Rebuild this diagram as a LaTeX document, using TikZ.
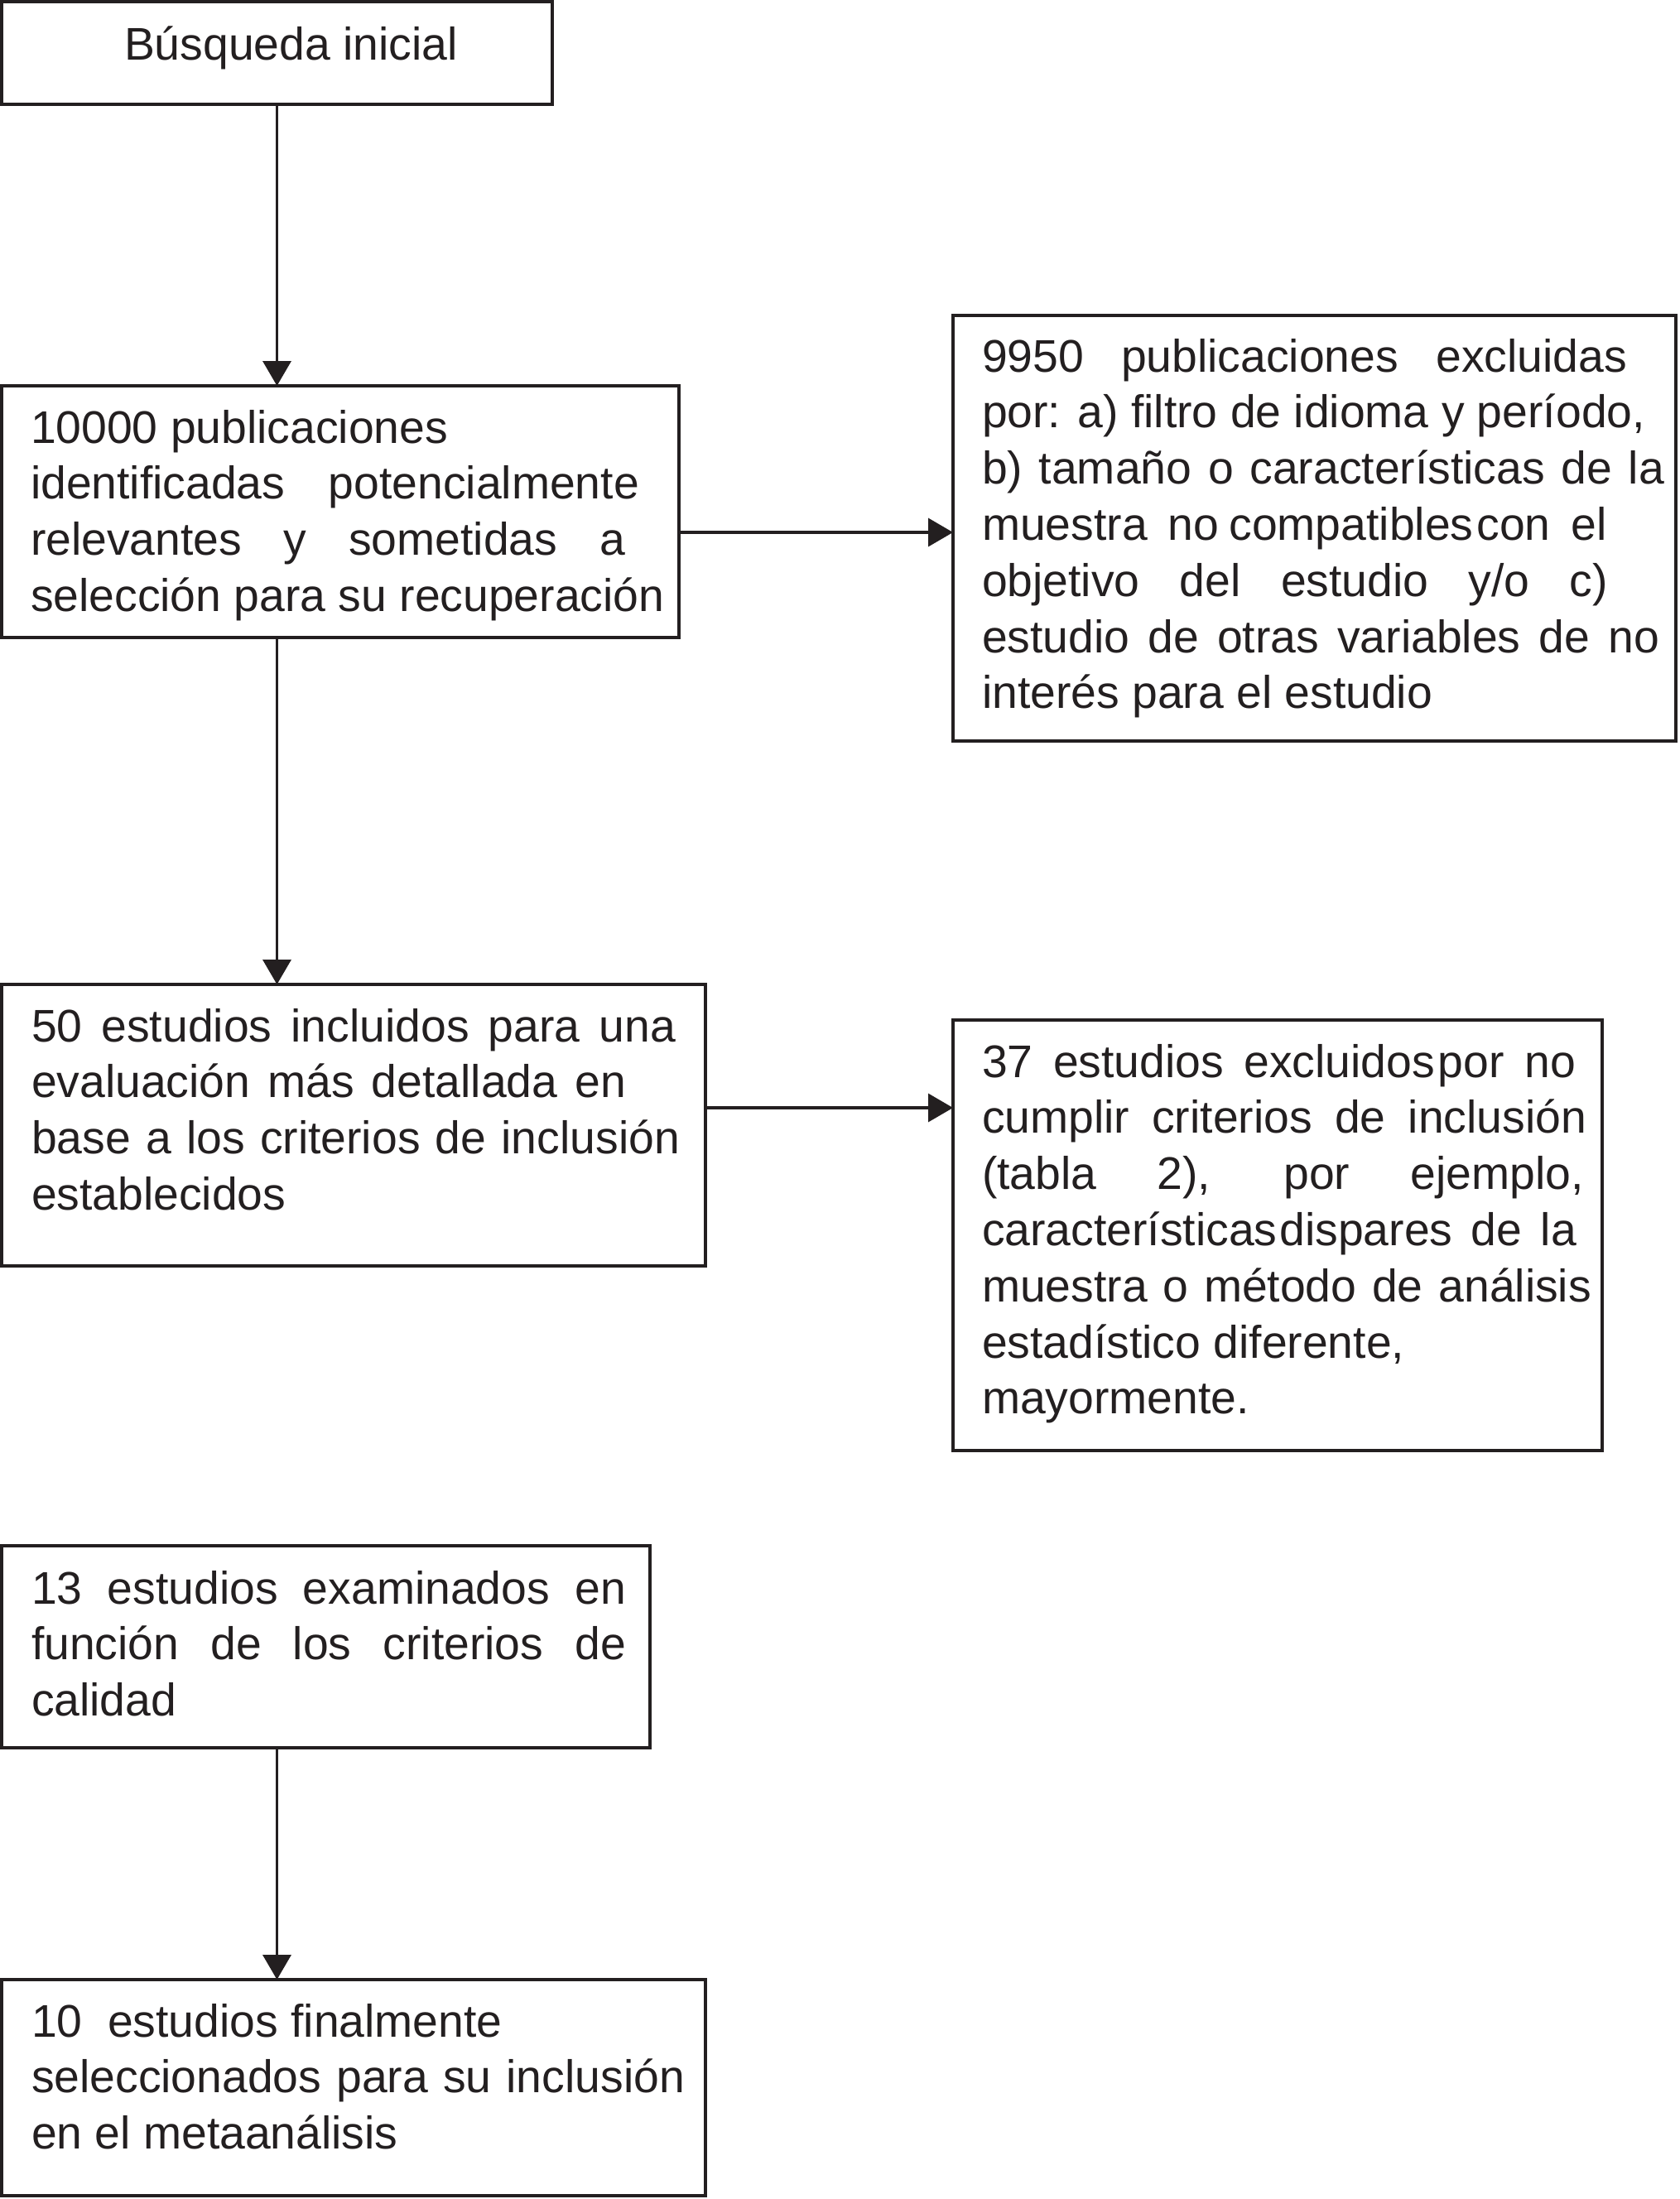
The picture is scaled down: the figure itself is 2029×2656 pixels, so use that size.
\documentclass[tikz,border=0pt]{standalone}
\usepackage{fontspec}
\setmainfont{Liberation Sans}
\usetikzlibrary{arrows.meta}
\definecolor{ink}{HTML}{231F20}
\newcommand{\jl}[2]{\makebox[#1pt][s]{#2}\\}
\newcommand{\nl}[1]{#1\\}
\begin{document}
\begin{tikzpicture}[x=1pt,y=-1pt,
  box/.style={draw=ink, line width=4pt, rectangle, inner sep=0pt, outer sep=0pt, anchor=north west},
  txt/.style={anchor=base west, inner sep=0pt, outer sep=0pt, text=ink, font=\fontsize{55.3}{67.8}\selectfont},
  conn/.style={draw=ink, line width=3.5pt, -{Triangle[length=30pt,width=34pt]}}]
\useasboundingbox (0,0) rectangle (2029,2656);
% boxes
\node[box, minimum width=665pt, minimum height=124pt] (b1) at (2,2) {};
\node[box, minimum width=818pt, minimum height=304pt] (b2) at (2,466) {};
\node[box, minimum width=873pt, minimum height=514pt] (b3) at (1151,381) {};
\node[box, minimum width=850pt, minimum height=340pt] (b4) at (2,1189) {};
\node[box, minimum width=784pt, minimum height=520pt] (b5) at (1151,1232) {};
\node[box, minimum width=783pt, minimum height=244pt] (b6) at (2,1867) {};
\node[box, minimum width=850pt, minimum height=261pt] (b7) at (2,2391) {};
% texts
\node[txt] (t1) at (150,72) {Búsqueda inicial};
\node[txt] (t2) at (37,535) {\parbox[t]{900pt}{%
\nl{10000 publicaciones}%
\jl{735}{identificadas potencialmente}%
\jl{718}{relevantes y sometidas a}%
selección para su recuperación}};
\node[txt] (t3) at (1186,449) {\parbox[t]{900pt}{%
\jl{779}{9950 publicaciones excluidas}%
\jl{801}{por: a) filtro de idioma y período,}%
\jl{824}{b) tamaño o características de la}%
\jl{755}{muestra no\hspace{12pt}compatibles\hspace{4pt}con el}%
\jl{756}{objetivo del estudio y/o c)}%
\jl{818}{estudio de otras variables de no}%
interés para el estudio}};
\node[txt] (t4) at (38,1258) {\parbox[t]{900pt}{%
\jl{778}{50 estudios incluidos para una}%
\jl{718}{evaluación más detallada en}%
\jl{783}{base a los criterios de inclusión}%
establecidos}};
\node[txt] (t5) at (1186,1301) {\parbox[t]{900pt}{%
\jl{717}{37 estudios excluidos\hspace{4pt}por no}%
\jl{730}{cumplir criterios de inclusión}%
\jl{727}{(tabla 2), por ejemplo,}%
\jl{718}{características\hspace{3pt}dispares de la}%
\jl{736}{muestra o método de análisis}%
\nl{estadístico diferente,}%
mayormente.}};
\node[txt] (t6) at (38,1937) {\parbox[t]{900pt}{%
\jl{718}{13 estudios examinados en}%
\jl{718}{función de los criterios de}%
calidad}};
\node[txt] (t7) at (38,2460) {\parbox[t]{900pt}{%
\nl{10\ \ estudios finalmente}%
\jl{789}{seleccionados para su inclusión}%
en el metaanálisis}};
% connectors
\coordinate (r1) at (0,643);
\coordinate (r2) at (0,1338);
\draw[conn] (b1.south) -- (b1.south |- b2.north);
\draw[conn] (b1.south |- b2.south) -- (b1.south |- b4.north);
\draw[conn] (b1.south |- b6.south) -- (b1.south |- b7.north);
\draw[conn] (b2.east |- r1) -- (b3.west |- r1);
\draw[conn] (b4.east |- r2) -- (b5.west |- r2);
\end{tikzpicture}
\end{document}
